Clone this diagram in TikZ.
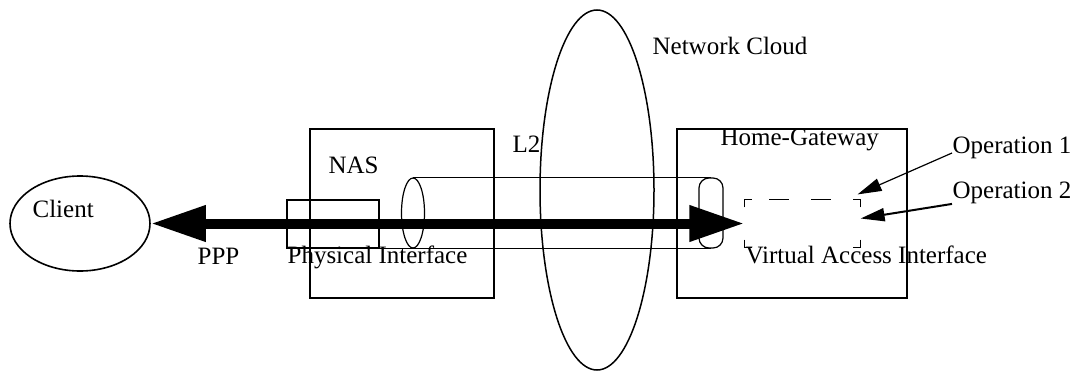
\documentclass[tikz,border=0pt]{standalone}
\usepackage{fontspec}
\setmainfont{Liberation Serif}
\usetikzlibrary{arrows.meta,shapes.geometric}
\tikzset{every node/.style={font=\fontsize{25}{29}\selectfont},
  lbl/.style={anchor=base west,inner sep=0pt},
  box/.style={draw,inner sep=0pt},
  ppp/.style={line width=10pt,{Triangle[length=55pt,width=34pt]}-{Triangle[length=55pt,width=34pt]}},
  oparrow/.style={-{Triangle[length=24pt,width=13pt]}}}

\begin{document}
\begin{tikzpicture}[x=1pt,y=-1pt,line width=1.2pt]
\useasboundingbox (0,0) rectangle (1071,372);
% boxes and shapes
\node[box,ellipse,line width=1.6pt,minimum width=140pt,minimum height=95pt] (client) at (80,223.5) {};
\node[box,minimum width=184pt,minimum height=169pt] (nas) at (402,213.5) {};
\node[box,minimum width=230pt,minimum height=169pt] (hgw) at (792,213.5) {};
\node[box,minimum width=92pt,minimum height=48pt] (phys) at (333,224) {};
\node[box,ellipse,line width=1.5pt,minimum width=114pt,minimum height=360pt] (cloud) at (597,190) {};
% L2 tunnel
\node[box,ellipse,minimum width=23pt,minimum height=70pt] (tunL) at (413,213) {};
\node[box,rounded corners=10pt,minimum width=24pt,minimum height=70pt] (tunR) at (711,213) {};
\draw (tunL.north) -- (tunR.north);
\draw (phys.south east) -- (tunR.south);
% virtual access interface
\node[inner sep=0pt,minimum width=115pt,minimum height=47pt] (vai) at (802.5,223.5) {};
\foreach \c/\dx/\dy in {north west/1/-1,north east/-1/-1,south west/1/1,south east/-1/1}
  \draw ([yshift=\dy*8pt]vai.\c) -- (vai.\c) -- ([xshift=\dx*8pt]vai.\c);
\draw ([xshift=25pt]vai.north west) -- ++(20,0);
\draw ([xshift=67pt]vai.north west) -- ++(20,0);
% labels
\node[lbl] (clientlbl) at (32,217) {Client};
\node[lbl] (nasl) at (328,173) {NAS};
\node[lbl] (l2) at (512,152) {L2};
\node[lbl] (cloudl) at (652,54) {Network Cloud};
\node[lbl] (hgwl) at (720,145) {Home-Gateway};
\node[lbl] (op1) at (952,153) {Operation 1};
\node[lbl] (op2) at (952,198) {Operation 2};
\node[lbl] (pppl) at (197,264) {PPP};
\node[lbl] (physl) at (287,263) {Physical Interface};
\node[lbl] (vail) at (745,263) {Virtual Access Interface};
% arrows
\draw[ppp] (client.east) -- (vai.west);
\draw[oparrow] (op1.base west) -- ([shift={(-3pt,5pt)}]vai.north east);
\draw[oparrow,line width=2pt] (op2.south west) -- ([yshift=5pt]vai.east);
\end{tikzpicture}
\end{document}
